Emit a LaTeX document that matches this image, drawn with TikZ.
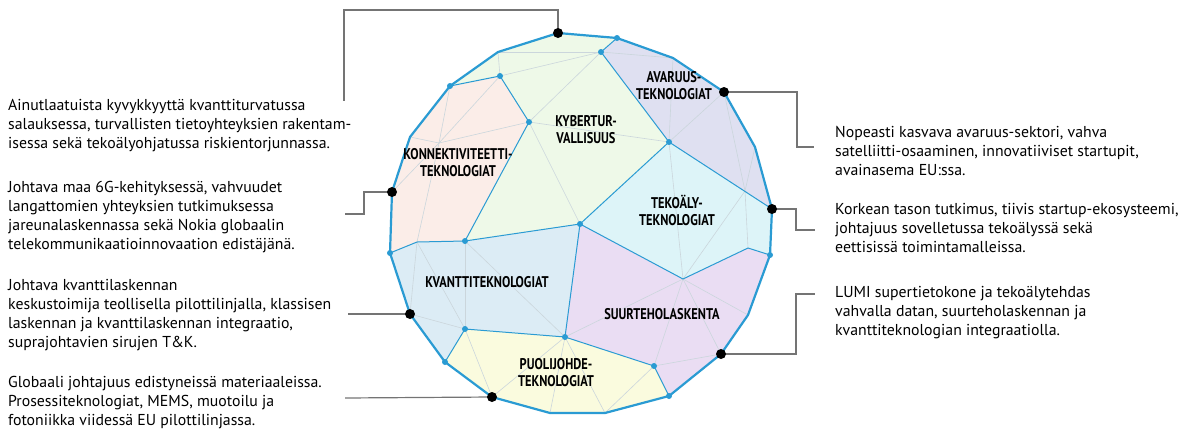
\documentclass[tikz,border=0pt]{standalone}
\usepackage{fontspec}
\setmainfont{PT Sans}
\definecolor{colorEdge}{HTML}{2A9BD3}
\definecolor{colorMesh}{HTML}{CBD6DC}
\definecolor{colorLeader}{HTML}{747474}
\definecolor{colorKyber}{HTML}{EEF9E8}
\definecolor{colorKonnekt}{HTML}{FBEDE8}
\definecolor{colorAvaruus}{HTML}{DFE0F1}
\definecolor{colorTekoaly}{HTML}{DDF4F8}
\definecolor{colorSuurteho}{HTML}{EADDF3}
\definecolor{colorKvantti}{HTML}{DCECF5}
\definecolor{colorPuoli}{HTML}{FAFBDE}
\newcommand{\areaname}[1]{\scalebox{0.8}[1]{#1}}
\tikzset{every picture/.style={line cap=round}}

\begin{document}
\begin{tikzpicture}[x=1pt, y=-1pt,
  region/.style={draw=colorEdge, line width=1pt, line join=round},
  mesh/.style={draw=colorMesh, line width=0.6pt},
  leader/.style={draw=colorLeader, line width=1.2pt, line cap=butt},
  blurb/.style={anchor=north west, align=left, inner sep=0pt, font=\fontsize{15.8}{19}\selectfont},
  area/.style={align=center, inner sep=0pt, font=\fontsize{15.5}{17}\selectfont\bfseries}]
\useasboundingbox (0,0) rectangle (1183,429);
% outer ring
\coordinate (o1) at (558,33);   \coordinate (o2) at (617,38);
\coordinate (o3) at (673,58);   \coordinate (o4) at (724,92);
\coordinate (o5) at (755,147);  \coordinate (o6) at (772,209);
\coordinate (o7) at (770,255);  \coordinate (o8) at (748,315);
\coordinate (o9) at (721,354);  \coordinate (o10) at (669,396);
\coordinate (o11) at (605,413); \coordinate (o12) at (550,413);
\coordinate (o13) at (492,397); \coordinate (o14) at (445,362);
\coordinate (o15) at (410,314); \coordinate (o16) at (390,253);
\coordinate (o17) at (392,192); \coordinate (o18) at (410,137);
\coordinate (o19) at (450,86);  \coordinate (o20) at (498,52);
% inner points
\coordinate (a) at (601,52);  \coordinate (b) at (500,76);
\coordinate (c) at (529,122); \coordinate (d) at (669,142);
\coordinate (e) at (580,224); \coordinate (f) at (465,241);
\coordinate (g) at (417,242); \coordinate (h) at (683,279);
\coordinate (k) at (748,248); \coordinate (m) at (465,329);
\coordinate (n) at (565,337); \coordinate (p) at (654,366);
\coordinate (q) at (439,143); \coordinate (s) at (745,191);

% areas
\fill[colorKyber] (o19) -- (o20) -- (o1) -- (o2) -- (a) -- (d) -- (e) -- (f) -- (c) -- (b) -- cycle;
\fill[colorKonnekt] (o16) -- (o17) -- (o18) -- (o19) -- (b) -- (c) -- (f) -- (g) -- cycle;
\fill[colorAvaruus] (o2) -- (o3) -- (o4) -- (o5) -- (o6) -- (d) -- (a) -- cycle;
\fill[colorTekoaly] (d) -- (o6) -- (o7) -- (k) -- (h) -- (e) -- cycle;
\fill[colorSuurteho] (e) -- (h) -- (k) -- (o7) -- (o8) -- (o9) -- (o10) -- (p) -- (n) -- cycle;
\fill[colorKvantti] (g) -- (f) -- (e) -- (n) -- (m) -- (o14) -- (o15) -- (o16) -- cycle;
\fill[colorPuoli] (m) -- (n) -- (p) -- (o10) -- (o11) -- (o12) -- (o13) -- (o14) -- cycle;

% faint mesh
\foreach \u/\v in {o20/a, o20/b, b/a, c/a, c/d, c/e,
  q/o19, q/b, q/c, q/o18, q/o17, q/g,
  a/o3, d/o3, d/o4, o4/s, s/o5,
  d/h, h/s, k/s,
  h/n, h/p, h/o9, h/o8, p/o9,
  g/m, f/m, f/n, o15/m, g/o15,
  n/o13, n/o12, n/o11, m/o13, p/o11}
  \draw[mesh] (\u) -- (\v);

% borders
\draw[region] (o19) -- (b) -- (c) -- (f) -- (g) -- (o16);
\draw[region] (o2) -- (a) -- (d) -- (e) -- (f);
\draw[region] (d) -- (o6);
\draw[region] (e) -- (h) -- (k) -- (o7);
\draw[region] (e) -- (n) -- (m) -- (o14);
\draw[region] (n) -- (p) -- (o10);
\draw[draw=colorEdge, line width=2.2pt, line join=round]
  (o1) -- (o2) -- (o3) -- (o4) -- (o5) -- (o6) -- (o7) -- (o8) -- (o9) -- (o10)
  -- (o11) -- (o12) -- (o13) -- (o14) -- (o15) -- (o16) -- (o17) -- (o18) -- (o19) -- (o20) -- cycle;

% leaders
\coordinate (c1) at (344,101);
\coordinate (c2) at (345,214);
\coordinate (c3) at (348,314);
\coordinate (c4) at (345,398);
\coordinate (c5) at (814,147);
\coordinate (c6) at (815,230);
\coordinate (c7) at (815,294);
\draw[leader] (o1) -- ++(0,-23) -| (c1);
\draw[leader] (o17) -- ++(-28,0) |- (c2);
\draw[leader] (o15) -- (c3);
\draw[leader] (o13) -- (c4);
\draw[leader] (o4) -- ++(73,0) |- (c5);
\draw[leader] (o6) -- ++(24,0) |- (c6);
\draw[leader] (o9) -- ++(75,0) |- (c7);

% dots
\foreach \v in {o2,o7,o10,o14,o16,o19,a,b,c,d,e,f,m,n,p}
  \fill[colorEdge] (\v) circle (3pt);
\foreach \v in {o1,o4,o6,o9,o13,o15,o17}
  \fill[black] (\v) circle (5pt);

% area names
\node[area] (kyber) at (586,130) {\areaname{KYBERTUR-}\\\areaname{VALLISUUS}};
\node[area] (avaruus) at (674,86) {\areaname{AVARUUS-}\\\areaname{TEKNOLOGIAT}};
\node[area] (konnekt) at (458,163) {\areaname{KONNEKTIVITEETTI-}\\\areaname{TEKNOLOGIAT}};
\node[area] (tekoaly) at (677,210) {\areaname{TEKOÄLY-}\\\areaname{TEKNOLOGIAT}};
\node[area] (kvantti) at (487,282) {\areaname{KVANTTITEKNOLOGIAT}};
\node[area] (suurteho) at (662,314) {\areaname{SUURTEHOLASKENTA}};
\node[area] (puoli) at (556,373) {\areaname{PUOLIJOHDE-}\\\areaname{TEKNOLOGIAT}};

% texts
\node[blurb] (t1) at (8,99) {Ainutlaatuista kyvykkyyttä kvanttiturvatussa\\salauksessa, turvallisten tietoyhteyksien rakentam-\\isessa sekä tekoälyohjatussa riskientorjunnassa.};
\node[blurb] (t2) at (8,181) {Johtava maa 6G-kehityksessä, vahvuudet\\langattomien yhteyksien tutkimuksessa\\jareunalaskennassa sekä Nokia globaalin\\telekommunikaatioinnovaation edistäjänä.};
\node[blurb] (t3) at (8,279) {Johtava kvanttilaskennan\\keskustoimija teollisella pilottilinjalla, klassisen\\laskennan ja kvanttilaskennan integraatio,\\suprajohtavien sirujen T\&K.};
\node[blurb] (t4) at (8,376) {Globaali johtajuus edistyneissä materiaaleissa.\\Prosessiteknologiat, MEMS, muotoilu ja\\fotoniikka viidessä EU pilottilinjassa.};
\node[blurb] (t5) at (835,126) {Nopeasti kasvava avaruus-sektori, vahva\\satelliitti-osaaminen, innovatiiviset startupit,\\avainasema EU:ssa.};
\node[blurb] (t6) at (835,203) {Korkean tason tutkimus, tiivis startup-ekosysteemi,\\johtajuus sovelletussa tekoälyssä sekä\\eettisissä toimintamalleissa.};
\node[blurb] (t7) at (835,286) {LUMI supertietokone ja tekoälytehdas\\vahvalla datan, suurteholaskennan ja\\kvanttiteknologian integraatiolla.};
\end{tikzpicture}
\end{document}
